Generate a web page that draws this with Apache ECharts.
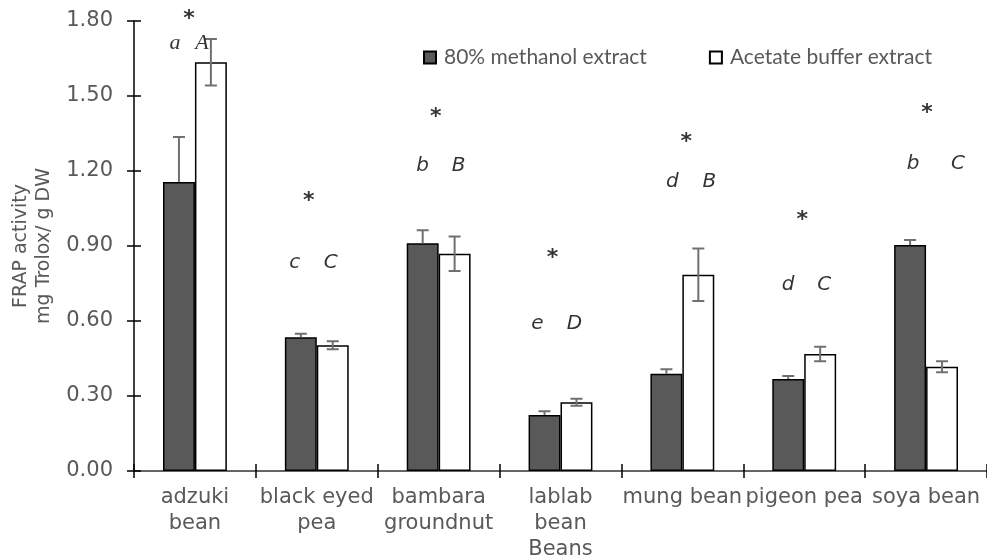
<!DOCTYPE html>
<html>
<head>
<meta charset="utf-8">
<script src="https://cdn.jsdelivr.net/npm/echarts@6/dist/echarts.min.js"></script>
<style>html,body{margin:0;padding:0;background:#fff}#chart{width:987px;height:560px}</style>
</head>
<body>
<div id="chart"></div>
<script>
// ---- data ----
const categories = ['adzuki\nbean', 'black eyed\npea', 'bambara\ngroundnut', 'lablab\nbean\nBeans', 'mung bean', 'pigeon pea', 'soya bean'];
const seriesNames = ['80% methanol extract', 'Acetate buffer extract'];
const methanol = [1.156, 0.535, 0.911, 0.224, 0.389, 0.368, 0.904];
const methanolErr = [0.180, 0.014, 0.052, 0.015, 0.018, 0.012, 0.020];
const acetate = [1.635, 0.503, 0.869, 0.275, 0.785, 0.468, 0.417];
const acetateErr = [0.093, 0.016, 0.069, 0.014, 0.105, 0.029, 0.022];
const lowerLetters = ['a', 'c', 'b', 'e', 'd', 'd', 'b'];
const upperLetters = ['A', 'C', 'B', 'D', 'B', 'C', 'C'];
const starMarks = ['*', '*', '*', '*', '*', '*', '*'];
const yMin = 0, yMax = 1.8, yStep = 0.3;

// ---- annotation layout (placement only) ----
const letterHeight = [1.710, 0.834, 1.222, 0.587, 1.155, 0.745, 1.227];
const starHeight = [1.806, 1.078, 1.414, 0.851, 1.313, 1.002, 1.429];
const lowerDx = [-20, -22, -16, -23, -10, -16, -13];
const upperDx = [7, 14, 20, 14, 27, 20, 32];
const starDx = [-6, -8, -3, -8, 4, -2, 1];

const chart = echarts.init(document.getElementById('chart'), null, {renderer: 'canvas'});
const GRAY = '#595959';
const BAR_FRAC = 0.262;

function annotSeries(texts, heights, dxs, opts) {
  return {
    type: 'scatter',
    symbolSize: 0,
    silent: true,
    clip: false,
    z: 10,
    data: texts.map((t, i) => ({
      value: [i, heights[i]],
      label: Object.assign({offset: [dxs[i], 0]},
        (opts.serifFirst && i === 0) ? {fontFamily: 'Liberation Serif', fontSize: 22} : {})
    })),
    label: {
      show: true,
      position: 'inside',
      formatter: p => texts[p.dataIndex],
      color: '#000',
      fontFamily: 'DejaVu Sans',
      fontStyle: opts.italic ? 'italic' : 'normal',
      fontWeight: opts.bold ? 'bold' : 'normal',
      fontSize: opts.size || 20
    }
  };
}

function errSeries(values, errs, side, plusOnly) {
  return {
    type: 'custom',
    silent: true,
    z: 5,
    data: values.map((v, i) => [i, v, errs[i]]),
    renderItem: function (params, api) {
      const i = api.value(0), v = api.value(1), e = api.value(2);
      const band = api.size([1, 0])[0];
      const off = side * band * BAR_FRAC / 2;
      const top = api.coord([i, v + e]);
      const bot = api.coord([i, plusOnly ? v : v - e]);
      const x = top[0] + off;
      const style = {stroke: '#707070', lineWidth: 2};
      const children = [
        {type: 'line', shape: {x1: x, y1: top[1], x2: x, y2: bot[1]}, style: style},
        {type: 'line', shape: {x1: x - 6, y1: top[1], x2: x + 6, y2: top[1]}, style: style}
      ];
      if (!plusOnly) children.push({type: 'line', shape: {x1: x - 6, y1: bot[1], x2: x + 6, y2: bot[1]}, style: style});
      return {type: 'group', children: children};
    }
  };
}

const option = {
  animation: false,
  backgroundColor: '#fff',
  grid: {left: 134, right: 0, top: 21, bottom: 89, containLabel: false, outerBoundsMode: 'none'},
  legend: {
    data: seriesNames,
    left: 418,
    top: 42,
    itemWidth: 12,
    itemHeight: 12,
    itemGap: 62,
    icon: 'rect',
    textStyle: {color: GRAY, fontFamily: 'Lato', fontSize: 21, padding: [0, 0, 0, 3]}
  },
  xAxis: [{
    type: 'category',
    data: categories,
    position: 'bottom',
    axisLine: {lineStyle: {color: '#333', width: 1.5}},
    axisTick: {show: true, length: 7, lineStyle: {color: '#000', width: 1.5}},
    axisLabel: {interval: 0, color: GRAY, fontFamily: 'DejaVu Sans', fontSize: 21, lineHeight: 26, margin: 14}
  }, {
    type: 'category',
    data: categories,
    position: 'bottom',
    axisLine: {show: false},
    axisTick: {show: true, inside: true, length: 7, lineStyle: {color: '#000', width: 1.5}},
    axisLabel: {show: false}
  }],
  yAxis: [{
    type: 'value',
    min: yMin, max: yMax, interval: yStep,
    position: 'left',
    name: 'FRAP activity\nmg Trolox/ g DW',
    nameLocation: 'middle',
    nameGap: 76,
    nameTextStyle: {color: GRAY, fontFamily: 'DejaVu Sans', fontSize: 19, lineHeight: 23},
    axisLine: {show: true, lineStyle: {color: '#000', width: 1.5}},
    axisTick: {show: true, length: 7, lineStyle: {color: '#000', width: 1.5}},
    splitLine: {show: false},
    axisLabel: {color: GRAY, fontFamily: 'DejaVu Sans', fontSize: 21, margin: 21, formatter: v => v.toFixed(2)}
  }, {
    type: 'value',
    min: yMin, max: yMax, interval: yStep,
    position: 'left',
    offset: 0,
    axisLine: {show: false},
    axisTick: {show: true, inside: true, length: 7, lineStyle: {color: '#000', width: 1.5}},
    splitLine: {show: false},
    axisLabel: {show: false}
  }],
  series: [
    {
      name: seriesNames[0], type: 'bar', data: methanol,
      barWidth: (BAR_FRAC * 100) + '%', barGap: '0%',
      itemStyle: {color: GRAY, borderColor: '#000', borderWidth: 1.5}
    },
    {
      name: seriesNames[1], type: 'bar', data: acetate,
      barWidth: (BAR_FRAC * 100) + '%', barGap: '0%',
      itemStyle: {color: '#fff', borderColor: '#000', borderWidth: 1.5}
    },
    errSeries(methanol, methanolErr, -1, true),
    errSeries(acetate, acetateErr, 1, false),
    annotSeries(lowerLetters, letterHeight, lowerDx, {italic: true, serifFirst: true}),
    annotSeries(upperLetters, letterHeight, upperDx, {italic: true, serifFirst: true}),
    annotSeries(starMarks, starHeight, starDx, {italic: false, bold: true, size: 22})
  ]
};
chart.setOption(option);
</script>
</body>
</html>
